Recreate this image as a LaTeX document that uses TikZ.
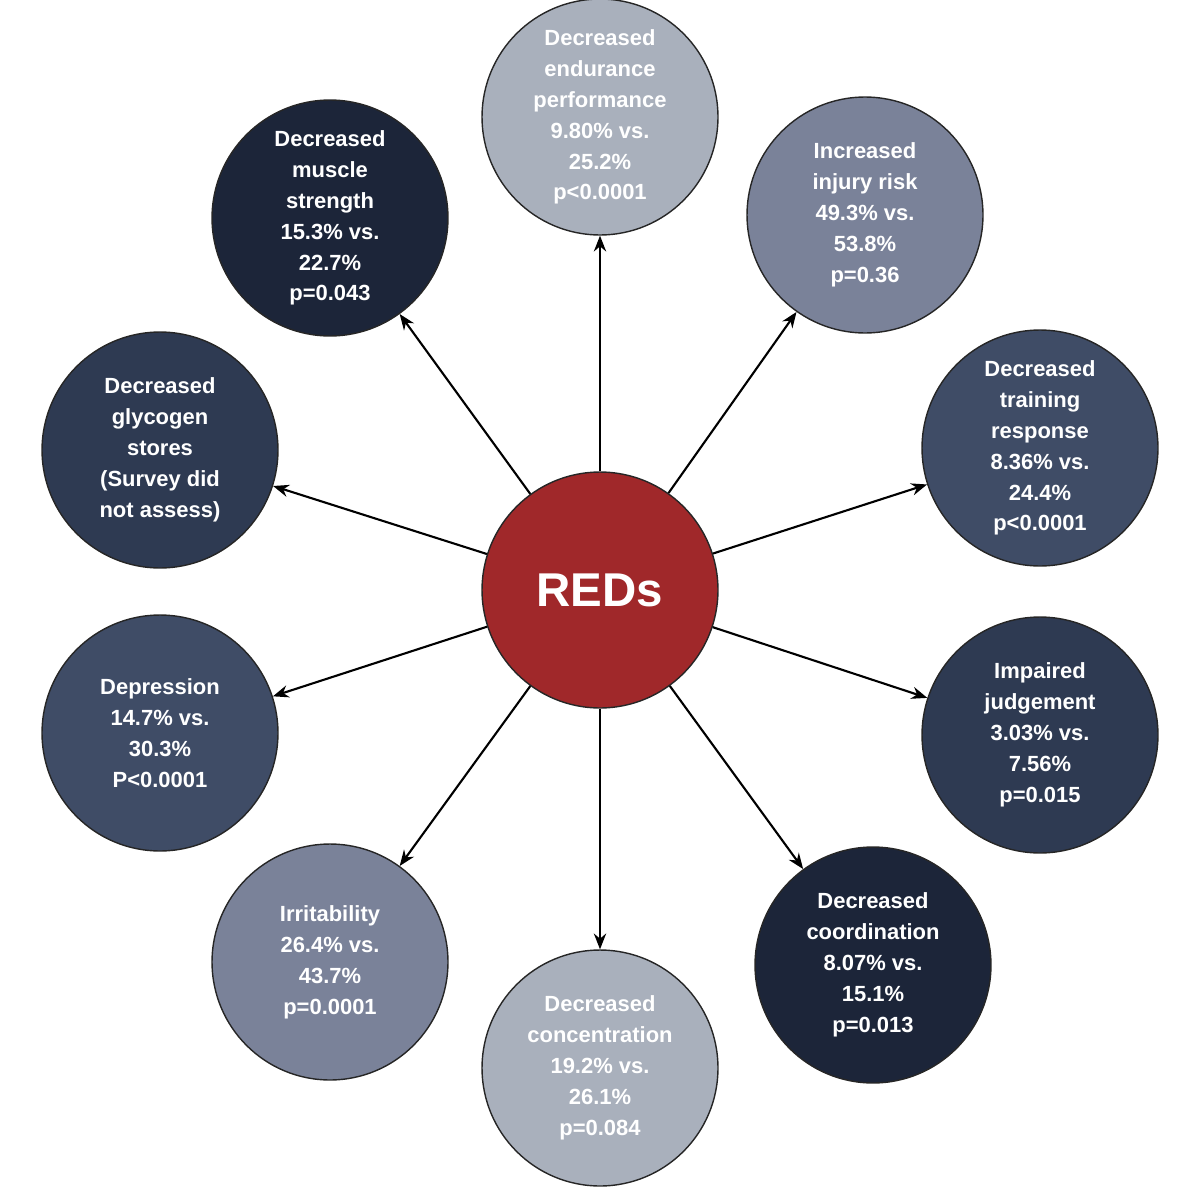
\documentclass[tikz,border=0pt]{standalone}
\usepackage{fontspec}
\setmainfont{Liberation Sans}
\usetikzlibrary{arrows.meta}
\definecolor{cA}{HTML}{A9B0BC}
\definecolor{cB}{HTML}{7A8299}
\definecolor{cC}{HTML}{3F4C66}
\definecolor{cD}{HTML}{2E3A52}
\definecolor{cE}{HTML}{1C2539}
\definecolor{cF}{HTML}{A0282A}
\tikzset{
 bub/.style={circle,draw=black!85,line width=0.8pt,minimum size=4.72cm,inner sep=0pt,text=white,font=\bfseries\fontsize{12.5}{17.6}\selectfont,align=center},
 arr/.style={-{Stealth[length=9pt,width=7pt]},line width=1.2pt,black}
}
\begin{document}
\begin{tikzpicture}[x=0.02cm,y=-0.02cm]
\useasboundingbox (0,0) rectangle (1200,1200);
\node[bub,fill=cF,font=\bfseries\fontsize{27}{30}\selectfont] (c) at (600,590) {REDs};
\node[bub,fill=cA] (n1) at (600,117) {Decreased\\endurance\\performance\\9.80\% vs.\\25.2\%\\p<0.0001};
\node[bub,fill=cB] (n2) at (865,215) {Increased\\injury risk\\49.3\% vs.\\53.8\%\\p=0.36};
\node[bub,fill=cC] (n3) at (1040,448) {Decreased\\training\\response\\8.36\% vs.\\24.4\%\\p<0.0001};
\node[bub,fill=cD] (n4) at (1040,735) {Impaired\\judgement\\3.03\% vs.\\7.56\%\\p=0.015};
\node[bub,fill=cE] (n5) at (873,965) {Decreased\\coordination\\8.07\% vs.\\15.1\%\\p=0.013};
\node[bub,fill=cA] (n6) at (600,1068) {Decreased\\concentration\\19.2\% vs.\\26.1\%\\p=0.084};
\node[bub,fill=cB] (n7) at (330,962) {Irritability\\26.4\% vs.\\43.7\%\\p=0.0001};
\node[bub,fill=cC] (n8) at (160,733) {Depression\\14.7\% vs.\\30.3\%\\P<0.0001};
\node[bub,fill=cD] (n9) at (160,450) {Decreased\\glycogen\\stores\\(Survey did\\not assess)};
\node[bub,fill=cE] (n10) at (330,218) {Decreased\\muscle\\strength\\15.3\% vs.\\22.7\%\\p=0.043};
\foreach \i in {1,...,10} \draw[arr] (c) -- (n\i);
\end{tikzpicture}
\end{document}
